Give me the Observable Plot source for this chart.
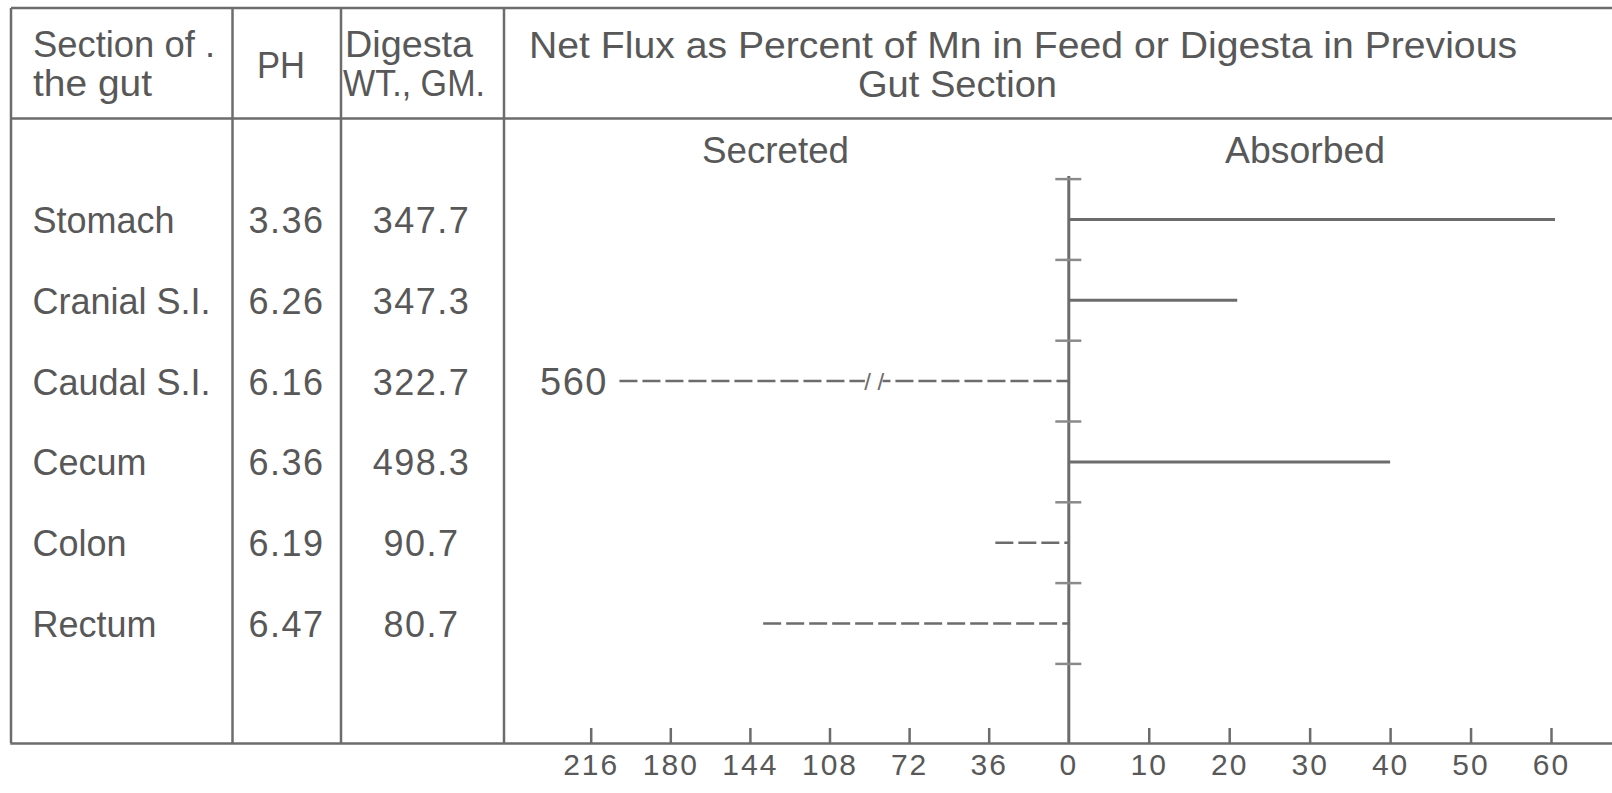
<!DOCTYPE html>
<html>
<head>
<meta charset="utf-8">
<script src="https://cdn.jsdelivr.net/npm/d3@7"></script>
<script src="https://cdn.jsdelivr.net/npm/@observablehq/plot@0.6"></script>
<style>
  html, body { margin: 0; padding: 0; background: #fff; overflow: hidden; }
  #chart svg { display: block; }
  #chart svg g[aria-label="x-axis tick label"] text { font-size: 30px; letter-spacing: 2px; }
</style>
</head>
<body>
<div id="chart"></div>
<script>
// ---- data ----
const sections   = ["Stomach", "Cranial S.I.", "Caudal S.I.", "Cecum", "Colon", "Rectum"];
const phValues   = [3.36, 6.26, 6.16, 6.36, 6.19, 6.47];
const digestaWt  = [347.7, 347.3, 322.7, 498.3, 90.7, 80.7];
const fluxSide   = ["Absorbed", "Absorbed", "Secreted", "Absorbed", "Secreted", "Secreted"];
const netFlux    = [60.5, 21, 560, 40, 33, 138];
const secretedTicks = [216, 180, 144, 108, 72, 36, 0];
const absorbedTicks = [10, 20, 30, 40, 50, 60];
const axisBreakCap = 203;   // secreted values beyond this are drawn with a broken bar
const breakMarkAt  = 88;    // where the "/ /" break symbol sits on the broken bar

// ---- texts ----
const headerTexts = [
  {text: "Section of .", x: 33, y: 57, len: 182},
  {text: "the gut", x: 33, y: 96, len: 119},
  {text: "PH", x: 257, y: 78, len: 48},
  {text: "Digesta", x: 345, y: 57, len: 128},
  {text: "WT., GM.", x: 343, y: 96, len: 142},
  {text: "Net Flux as Percent of Mn in Feed or Digesta in Previous", x: 529, y: 58, len: 988},
  {text: "Gut Section", x: 858, y: 97, len: 199},
  {text: "Secreted", x: 702, y: 163, len: 147},
  {text: "Absorbed", x: 1225, y: 163, len: 160}
];

const rows = sections.map((s, i) => ({
  i, section: s, ph: phValues[i], wt: digestaWt[i], side: fluxSide[i], flux: netFlux[i]
}));
const absorbed = rows.filter(d => d.side === "Absorbed");
const secreted = rows.filter(d => d.side === "Secreted");
const broken = secreted.filter(d => d.flux > axisBreakCap);
const drawnEnd = d => d.side === "Secreted" ? -Math.min(d.flux, axisBreakCap) : d.flux;

const tickVals = [...secretedTicks.map(v => -v), ...absorbedTicks];
const boundaries = d3.range(sections.length + 1).map(k => k - 0.5);

const W = 1612, H = 793;
const INK = "#585858", LINE = "#6c6c6c";
const FONT = "'Liberation Sans', Arial, sans-serif";

const plot = Plot.plot({
  width: W, height: H,
  marginLeft: 11, marginRight: 0, marginTop: 118, marginBottom: 50,
  style: {fontFamily: FONT, color: INK, background: "#fff"},
  x: {type: "linear", domain: [-216, 0, 60], range: [590.7, 1068.3, 1551], axis: null},
  y: {type: "linear", domain: [-0.5, sections.length - 0.5], range: [178.6, 663.4], axis: null},
  marks: [
    Plot.frame({anchor: "top", stroke: LINE, strokeWidth: 2.5}),
    Plot.frame({anchor: "bottom", stroke: LINE, strokeWidth: 2.5}),
    // x ticks pointing up from baseline
    Plot.ruleX(tickVals.filter(v => v !== 0), {insetTop: 610, stroke: LINE, strokeWidth: 2.5}),
    Plot.axisX({ticks: tickVals, tickSize: 0, tickPadding: 10, tickFormat: d => String(Math.abs(d)),
                fontSize: 30, label: null, fill: INK}),
    // zero axis
    Plot.ruleX([0], {insetTop: 58, stroke: LINE, strokeWidth: 3}),
    Plot.ruleY(boundaries, {x1: () => 0, x2: () => 0, insetLeft: -13, insetRight: -13,
                            stroke: "#8a8a8a", strokeWidth: 2.5}),
    // bars
    Plot.ruleY(absorbed, {y: "i", x1: () => 0, x2: drawnEnd, stroke: LINE, strokeWidth: 3}),
    Plot.ruleY(secreted, {y: "i", x1: drawnEnd, x2: () => 0, stroke: LINE, strokeWidth: 2.5,
                          strokeDasharray: "18,5"}),
    // axis break on the off-scale bar
    Plot.ruleY(broken, {y: "i", x1: () => -(breakMarkAt + 4), x2: () => -(breakMarkAt - 4),
                        stroke: "white", strokeWidth: 7}),
    Plot.text(broken, {y: "i", x: () => -breakMarkAt, text: () => "/ /", fontSize: 24,
                       fill: LINE, dy: 1}),
    Plot.text(broken, {y: "i", x: drawnEnd, text: d => String(d.flux), textAnchor: "end",
                       dx: -12, dy: 2, fontSize: 38, fill: INK}),
    // table columns
    Plot.text(rows, {y: "i", text: "section", frameAnchor: "left", dx: 21, dy: 2,
                     fontSize: 36, fill: INK}),
    Plot.text(rows, {y: "i", text: d => d.ph.toFixed(2), frameAnchor: "left", dx: 275, dy: 2,
                     textAnchor: "middle", fontSize: 36, fill: INK}),
    Plot.text(rows, {y: "i", text: d => d.wt.toFixed(1), frameAnchor: "left", dx: 410, dy: 2,
                     textAnchor: "middle", fontSize: 36, fill: INK})
  ]
});

document.getElementById("chart").appendChild(plot);

// ---- table rules and header texts ----
const svg = d3.select(plot);
const gridLines = [
  [11, 8, W, 8],
  [11, 8, 11, 743],
  [232.5, 8, 232.5, 743],
  [341, 8, 341, 743],
  [504, 8, 504, 743]
];
svg.append("g").attr("stroke", LINE).attr("stroke-width", 2.5)
  .selectAll("line").data(gridLines).join("line")
  .attr("x1", d => d[0]).attr("y1", d => d[1]).attr("x2", d => d[2]).attr("y2", d => d[3]);

svg.append("g").attr("fill", INK).attr("font-family", FONT).attr("font-size", 36)
  .attr("text-anchor", "start")
  .selectAll("text").data(headerTexts).join("text")
  .attr("x", d => d.x).attr("y", d => d.y)
  .attr("text-anchor", "start")
  .attr("textLength", d => d.len).attr("lengthAdjust", "spacingAndGlyphs")
  .text(d => d.text);

// row numbers are wider in the original lettering
svg.selectAll('g[aria-label="text"] text')
  .filter(function() { return /^[\d.]+$/.test(this.textContent); })
  .attr("letter-spacing", "1.5px");
</script>
</body>
</html>
